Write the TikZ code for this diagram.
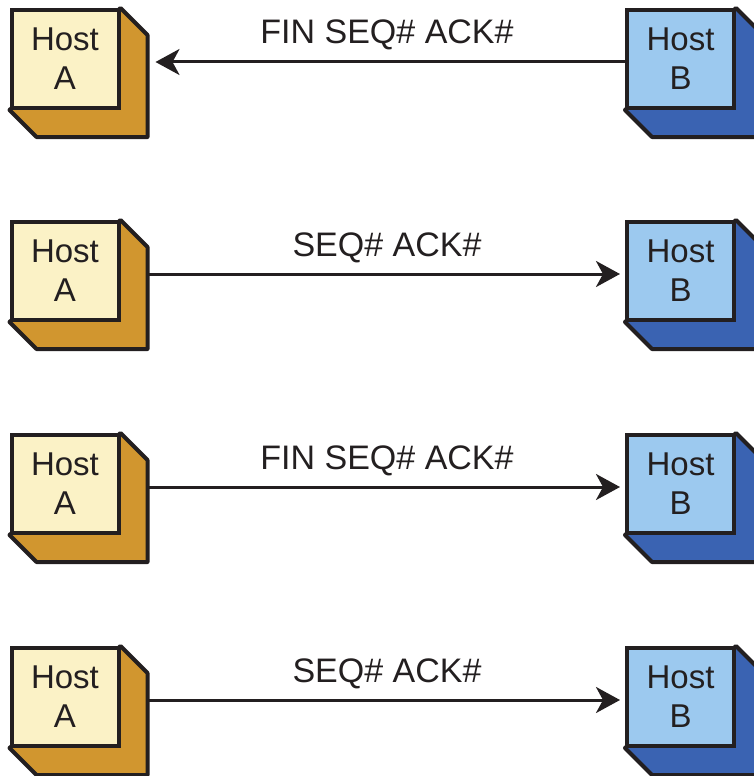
\documentclass[tikz,border=0pt]{standalone}
\usepackage{fontspec}
\setmainfont{Liberation Sans}
\usetikzlibrary{arrows.meta,backgrounds}
\definecolor{hostAfront}{HTML}{FBF2C6}
\definecolor{hostAside}{HTML}{D1962F}
\definecolor{hostBfront}{HTML}{9CC9EF}
\definecolor{hostBside}{HTML}{3A63B2}
\definecolor{ink}{HTML}{231F20}

\begin{document}
\begin{tikzpicture}[x=1pt,y=-1pt,
  font=\fontsize{33}{39}\selectfont, >={Stealth[length=24pt,width=26pt,inset=7pt]},
  host/.style={draw=ink,line width=4pt,align=center,minimum width=107pt,minimum height=98pt,inner sep=0pt,text=ink},
  hosta/.style={host,fill=hostAfront},
  hostb/.style={host,fill=hostBfront},
  side/.style={draw=ink,line width=4pt,line join=round},
  msg/.style={->,line width=3pt,draw=ink},
  lbl/.style={anchor=base,text=ink,font=\fontsize{34}{39}\selectfont},
]
\useasboundingbox (0,0) rectangle (753,776);
% hosts, one pair per row
\foreach \i/\y in {1/59,2/271,3/484,4/697}{
  \node[hosta] (a\i) at (65,\y) {Host\\A};
  \node[hostb] (b\i) at (680.5,\y) {Host\\B};
  \begin{scope}[on background layer]
    \draw[side,fill=hostAside] (a\i.north east) -- ++(27,27) -- ([shift={(27,27)}]a\i.south east)
      -- ([shift={(27,27)}]a\i.south west) -- (a\i.south west) -- cycle;
    \draw[side,fill=hostBside] (b\i.north east) -- ++(27,27) -- ([shift={(27,27)}]b\i.south east)
      -- ([shift={(27,27)}]b\i.south west) -- (b\i.south west) -- cycle;
  \end{scope}
}
% messages
\draw[msg] ([yshift=-3pt]b1.west) -- ([xshift=35pt,yshift=-3pt]a1.east);
\foreach \i in {2,3,4}
  \draw[msg] ([xshift=27pt,yshift=-3pt]a\i.east) -- ([xshift=-5pt,yshift=-3pt]b\i.west);
\node[lbl] (m1) at (387,44) {FIN SEQ\# ACK\#};
\node[lbl] (m2) at (387,256) {SEQ\# ACK\#};
\node[lbl] (m3) at (387,469) {FIN SEQ\# ACK\#};
\node[lbl] (m4) at (387,682) {SEQ\# ACK\#};
\end{tikzpicture}
\end{document}
